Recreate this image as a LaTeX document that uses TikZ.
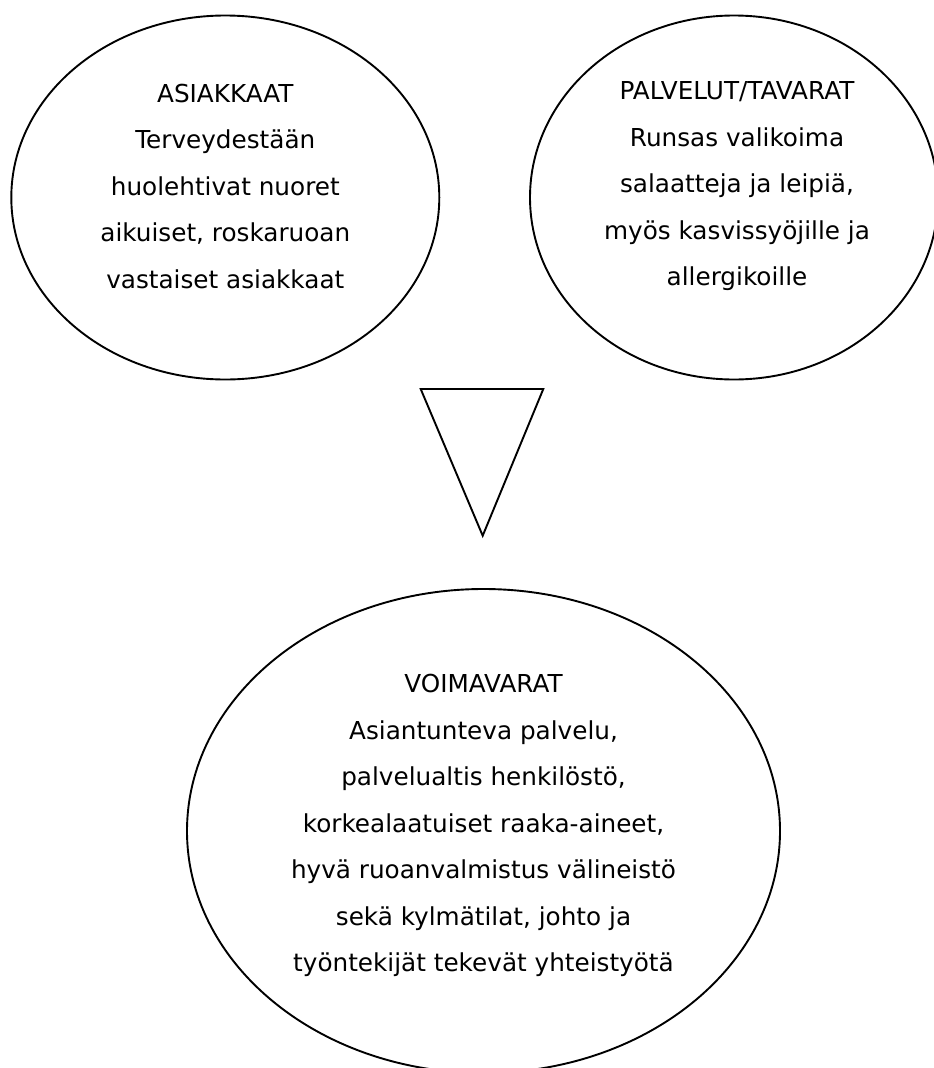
\documentclass[tikz,border=0pt]{standalone}
\usepackage{fontspec}
\setmainfont{DejaVu Sans}
\usetikzlibrary{shapes.geometric}
\tikzset{
  outline/.style={draw=black, line width=1.9pt},
  bubble/.style={outline, ellipse, inner sep=0pt},
  blocktext/.style={align=center, inner sep=0pt,
    font=\fontsize{24.7}{46.5}\selectfont},
}
\begin{document}
\begin{tikzpicture}[x=1pt, y=-1pt]
  \useasboundingbox (0,0) rectangle (934,1068);
  \clip (0,0) rectangle (934,1068);

  % the two upper ellipses
  \node[bubble, minimum width=428pt, minimum height=364pt] (customers) at (225.3,197.5) {};
  \node[bubble, minimum width=408pt, minimum height=364pt] (offer) at (734,197.5) {};

  % downward triangle between the rows
  \coordinate (triL) at (420.7,389);
  \coordinate (triR) at (543.3,389);
  \coordinate (triB) at (482.7,535.7);
  \draw[outline, line join=miter] (triL) -- (triR) -- (triB) -- cycle;

  % the large lower ellipse
  \node[bubble, minimum width=593pt, minimum height=484pt] (strengths) at (483.5,831) {};

  % texts
  \node[blocktext] (customersText) at (225.3,186.5) {ASIAKKAAT\\Terveydestään\\huolehtivat nuoret\\aikuiset, roskaruoan\\vastaiset asiakkaat};
  \node[blocktext] (offerText) at (737,186.5) {PALVELUT/TAVARAT\\Runsas valikoima\\salaatteja ja leipiä,\\myös kasvissyöjille ja\\allergikoille};
  \node[blocktext] (strengthsText) at (483.5,825.5) {VOIMAVARAT\\Asiantunteva palvelu,\\palvelualtis henkilöstö,\\korkealaatuiset raaka-aineet,\\hyvä ruoanvalmistus välineistö\\sekä kylmätilat, johto ja\\työntekijät tekevät yhteistyötä};
\end{tikzpicture}
\end{document}
